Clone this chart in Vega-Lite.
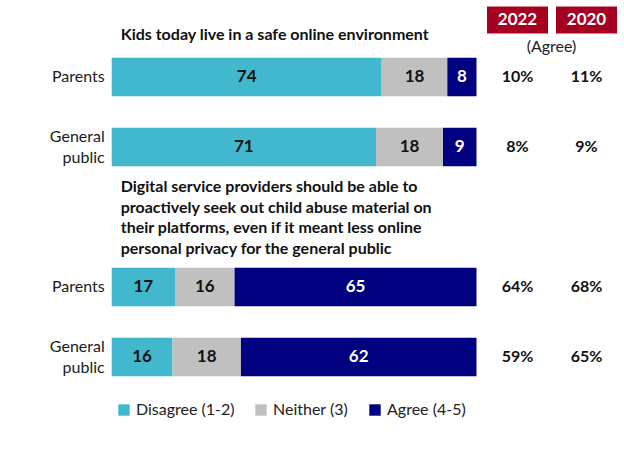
{
  "$schema": "https://vega.github.io/schema/vega-lite/v6.json",
  "width": 624,
  "height": 468,
  "autosize": "none",
  "padding": 0,
  "background": "white",
  "config": {
    "view": {"stroke": null},
    "font": "Lato",
    "text": {"font": "Lato"},
    "axis": {"labelFont": "Lato"},
    "legend": {"labelFont": "Lato"}
  },
  "datasets": {
    "bars": [
      {"row": "r1", "cat": "Disagree (1-2)", "ord": 1, "value": 74},
      {"row": "r1", "cat": "Neither (3)", "ord": 2, "value": 18},
      {"row": "r1", "cat": "Agree (4-5)", "ord": 3, "value": 8},
      {"row": "r2", "cat": "Disagree (1-2)", "ord": 1, "value": 71},
      {"row": "r2", "cat": "Neither (3)", "ord": 2, "value": 18},
      {"row": "r2", "cat": "Agree (4-5)", "ord": 3, "value": 9},
      {"row": "r3", "cat": "Disagree (1-2)", "ord": 1, "value": 17},
      {"row": "r3", "cat": "Neither (3)", "ord": 2, "value": 16},
      {"row": "r3", "cat": "Agree (4-5)", "ord": 3, "value": 65},
      {"row": "r4", "cat": "Disagree (1-2)", "ord": 1, "value": 16},
      {"row": "r4", "cat": "Neither (3)", "ord": 2, "value": 18},
      {"row": "r4", "cat": "Agree (4-5)", "ord": 3, "value": 62}
    ],
    "rowlabels1": [
      {"row": "r1", "label": "Parents"},
      {"row": "r3", "label": "Parents"}
    ],
    "rowlabels2": [
      {"row": "r2", "label": ["General", "public"]},
      {"row": "r4", "label": ["General", "public"]}
    ],
    "side": [
      {"row": "r1", "year": "2022", "pct": 0.10},
      {"row": "r1", "year": "2020", "pct": 0.11},
      {"row": "r2", "year": "2022", "pct": 0.08},
      {"row": "r2", "year": "2020", "pct": 0.09},
      {"row": "r3", "year": "2022", "pct": 0.64},
      {"row": "r3", "year": "2020", "pct": 0.68},
      {"row": "r4", "year": "2022", "pct": 0.59},
      {"row": "r4", "year": "2020", "pct": 0.65}
    ],
    "headers": [
      {"row": "r1", "year": "2022"},
      {"row": "r1", "year": "2020"}
    ],
    "titles": [
      {"row": "r1", "t": "Kids today live in a safe online environment"}
    ],
    "titles2": [
      {"row": "gap", "t": ["Digital service providers should be able to", "proactively seek out child abuse material on", "their platforms, even if it meant less online", "personal privacy for the general public"]}
    ],
    "agree": [
      {"row": "r1", "year": "2022", "t": "(Agree)"}
    ]
  },
  "resolve": {"scale": {"x": "independent"}},
  "layer": [
    {
      "data": {"name": "bars"},
      "mark": {"type": "bar"},
      "encoding": {
        "y": {
          "field": "row", "type": "nominal",
          "scale": {"domain": ["r1", "r2", "gap", "r3", "r4"], "range": [42, 392], "paddingInner": 0.45, "paddingOuter": 0.225},
          "axis": null
        },
        "x": {
          "field": "value", "type": "quantitative", "stack": "normalize",
          "scale": {"domain": [-0.3062, 1.4043], "nice": false, "zero": false},
          "axis": null
        },
        "color": {
          "field": "cat", "type": "nominal",
          "scale": {"domain": ["Disagree (1-2)", "Neither (3)", "Agree (4-5)"], "range": ["#41B8CE", "#C0C0C0", "#000080"]},
          "legend": {
            "orient": "none", "legendX": 116, "legendY": 402, "direction": "horizontal", "title": null,
            "symbolType": "square", "symbolSize": 130, "symbolStrokeWidth": 0, "labelFontSize": 16,
            "labelColor": "#222222", "columnPadding": 18, "labelOffset": 4
          }
        },
        "order": {"field": "ord", "type": "quantitative"}
      }
    },
    {
      "data": {"name": "bars"},
      "mark": {"type": "text", "fontWeight": "bold", "fontSize": 17, "baseline": "middle"},
      "encoding": {
        "y": {"field": "row", "type": "nominal", "axis": null},
        "x": {
          "field": "value", "type": "quantitative", "stack": "normalize", "bandPosition": 0.5,
          "scale": {"domain": [-0.3062, 1.4043], "nice": false, "zero": false},
          "axis": null
        },
        "order": {"field": "ord", "type": "quantitative"},
        "text": {"field": "value", "type": "quantitative"},
        "color": {"condition": {"test": "datum.cat == 'Agree (4-5)'", "value": "#ffffff"}, "value": "#111111"}
      }
    },
    {
      "data": {"name": "rowlabels1"},
      "mark": {"type": "text", "fontSize": 16, "align": "right", "baseline": "middle", "dx": -7, "color": "#1a1a1a"},
      "encoding": {
        "y": {"field": "row", "type": "nominal", "axis": null},
        "x": {"datum": 0, "type": "quantitative", "scale": {"domain": [-0.3062, 1.4043], "nice": false, "zero": false}, "axis": null},
        "text": {"field": "label"}
      }
    },
    {
      "data": {"name": "rowlabels2"},
      "mark": {"type": "text", "fontSize": 16, "align": "right", "baseline": "middle", "lineHeight": 21, "dx": -7, "yOffset": -10.5, "color": "#1a1a1a"},
      "encoding": {
        "y": {"field": "row", "type": "nominal", "axis": null},
        "x": {"datum": 0, "type": "quantitative", "scale": {"domain": [-0.3062, 1.4043], "nice": false, "zero": false}, "axis": null},
        "text": {"field": "label"}
      }
    },
    {
      "data": {"name": "titles"},
      "mark": {"type": "text", "fontWeight": "bold", "fontSize": 16, "align": "left", "baseline": "middle", "yOffset": -42, "dx": 9, "color": "#111111"},
      "encoding": {
        "y": {"field": "row", "type": "nominal", "axis": null},
        "x": {"datum": 0, "type": "quantitative", "scale": {"domain": [-0.3062, 1.4043], "nice": false, "zero": false}, "axis": null},
        "text": {"field": "t"}
      }
    },
    {
      "data": {"name": "titles2"},
      "mark": {"type": "text", "fontWeight": "bold", "fontSize": 16, "align": "left", "baseline": "middle", "lineHeight": 20.7, "yOffset": -30, "dx": 9, "color": "#111111"},
      "encoding": {
        "y": {"field": "row", "type": "nominal", "axis": null},
        "x": {"datum": 0, "type": "quantitative", "scale": {"domain": [-0.3062, 1.4043], "nice": false, "zero": false}, "axis": null},
        "text": {"field": "t"}
      }
    },
    {
      "data": {"name": "headers"},
      "mark": {"type": "rect", "color": "#A50021", "height": 27, "yOffset": -57},
      "encoding": {
        "y": {"field": "row", "type": "nominal", "axis": null},
        "x": {"field": "year", "type": "nominal", "scale": {"type": "band", "domain": ["2022", "2020"], "range": [487, 617], "paddingInner": 0.116, "paddingOuter": 0}, "axis": null}
      }
    },
    {
      "data": {"name": "headers"},
      "mark": {"type": "text", "fontWeight": "bold", "fontSize": 17, "color": "#ffffff", "baseline": "middle", "yOffset": -57},
      "encoding": {
        "y": {"field": "row", "type": "nominal", "axis": null},
        "x": {"field": "year", "type": "nominal", "scale": {"type": "band", "domain": ["2022", "2020"], "range": [487, 617], "paddingInner": 0.116, "paddingOuter": 0}, "axis": null},
        "text": {"field": "year"}
      }
    },
    {
      "data": {"name": "agree"},
      "mark": {"type": "text", "fontSize": 16, "color": "#222222", "baseline": "middle", "yOffset": -30, "dx": 34},
      "encoding": {
        "y": {"field": "row", "type": "nominal", "axis": null},
        "x": {"field": "year", "type": "nominal", "scale": {"type": "band", "domain": ["2022", "2020"], "range": [487, 617], "paddingInner": 0.116, "paddingOuter": 0}, "axis": null},
        "text": {"field": "t"}
      }
    },
    {
      "data": {"name": "side"},
      "mark": {"type": "text", "fontWeight": "bold", "fontSize": 16, "color": "#111111", "baseline": "middle"},
      "encoding": {
        "y": {"field": "row", "type": "nominal", "axis": null},
        "x": {"field": "year", "type": "nominal", "scale": {"type": "band", "domain": ["2022", "2020"], "range": [487, 617], "paddingInner": 0.116, "paddingOuter": 0}, "axis": null},
        "text": {"field": "pct", "type": "quantitative", "format": ".0%"}
      }
    }
  ]
}
